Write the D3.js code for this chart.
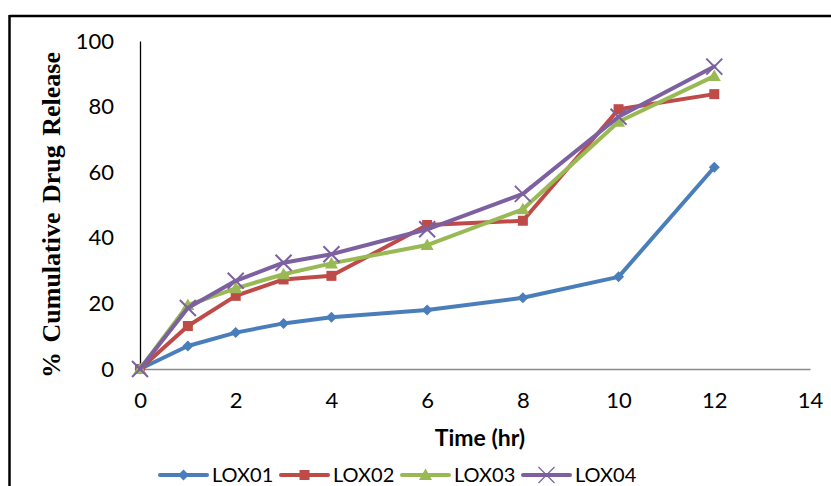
<!DOCTYPE html>
<html>
<head>
<meta charset="utf-8">
<script src="https://cdn.jsdelivr.net/npm/d3@7"></script>
<style>
  html, body { margin: 0; padding: 0; background: #fff; }
  svg { display: block; }
</style>
</head>
<body>
<svg id="chart" width="831" height="486"></svg>
<script>
// Sampling times (hr)
const times = [0, 1, 2, 3, 4, 6, 8, 10, 12];

// % cumulative drug release per formulation
const lox01 = [0, 7.0, 11.1, 13.9, 15.8, 18.0, 21.7, 28.1, 61.5];
const lox02 = [0, 13.1, 22.3, 27.3, 28.4, 43.9, 45.2, 79.2, 83.8];
const lox03 = [0, 19.5, 24.6, 28.9, 32.2, 37.8, 48.7, 75.4, 89.3];
const lox04 = [0, 18.6, 26.9, 32.4, 35.0, 42.6, 53.4, 76.9, 92.2];

const seriesNames = ["LOX01", "LOX02", "LOX03", "LOX04"];
const xTicks = [0, 2, 4, 6, 8, 10, 12, 14];
const yTicks = [0, 20, 40, 60, 80, 100];

const seriesValues = [lox01, lox02, lox03, lox04];
const colors = ["#4a7ebb", "#be4b48", "#98b954", "#7d60a0"];
const markers = ["diamond", "square", "triangle", "cross"];

const svg = d3.select("#chart");

// Frame lines
svg.append("line").attr("x1", 9.5).attr("x2", 831).attr("y1", 16).attr("y2", 16)
  .attr("stroke", "#000").attr("stroke-width", 2.5);
svg.append("line").attr("x1", 9.5).attr("x2", 9.5).attr("y1", 15).attr("y2", 486)
  .attr("stroke", "#000").attr("stroke-width", 2.5);

const x = d3.scaleLinear().domain([0, 14]).range([140, 810]);
const y = d3.scaleLinear().domain([0, 100]).range([369, 41]);

const tickFont = "Lato, 'Open Sans', sans-serif";

// Y axis
const yAxis = svg.append("g").attr("transform", `translate(${x(0)},0)`)
  .call(d3.axisLeft(y).tickValues(yTicks).tickSize(0).tickPadding(26).tickFormat(d3.format("d")));
yAxis.select(".domain").attr("stroke", "#000").attr("stroke-width", 1.3);
yAxis.selectAll("text").attr("font-family", tickFont).attr("font-size", 22).attr("fill", "#000");

// X axis
const xAxis = svg.append("g").attr("transform", `translate(0,${y(0)})`)
  .call(d3.axisBottom(x).tickValues(xTicks).tickSize(0).tickPadding(23).tickFormat(d3.format("d")));
xAxis.select(".domain").attr("stroke", "#8a8a8a").attr("stroke-width", 1.3);
xAxis.selectAll("text").attr("font-family", tickFont).attr("font-size", 22).attr("fill", "#000");

// Axis titles
svg.append("text")
  .attr("transform", `translate(60,${(53 + 377) / 2}) rotate(-90)`)
  .attr("text-anchor", "middle")
  .attr("font-family", "'Liberation Serif', 'Times New Roman', serif")
  .attr("font-weight", "bold").attr("font-size", 26)
  .attr("word-spacing", 3)
  .text("% Cumulative Drug Release");

svg.append("text")
  .attr("x", 480).attr("y", 446)
  .attr("text-anchor", "middle")
  .attr("font-family", tickFont).attr("font-weight", "bold").attr("font-size", 23)
  .text("Time (hr)");

// Marker shape drawing
function drawMarker(g, type, color, thin) {
  if (type === "diamond") {
    g.append("path").attr("d", "M0,-5.5L5.5,0L0,5.5L-5.5,0Z").attr("fill", color);
  } else if (type === "square") {
    g.append("rect").attr("x", -5).attr("y", -5).attr("width", 10).attr("height", 10).attr("fill", color);
  } else if (type === "triangle") {
    g.append("path").attr("d", "M0,-6.5L6.5,5L-6.5,5Z").attr("fill", color);
  } else {
    g.append("path").attr("d", "M-8,-8L8,8M-8,8L8,-8").attr("stroke", color).attr("stroke-width", thin ? 1.2 : 2);
  }
}

const line = d3.line().x((d, i) => x(times[i])).y(d => y(d));

seriesValues.forEach((vals, s) => {
  const g = svg.append("g");
  g.append("path").datum(vals)
    .attr("d", line)
    .attr("fill", "none")
    .attr("stroke", colors[s])
    .attr("stroke-width", 4)
    .attr("stroke-linejoin", "round")
    .attr("stroke-linecap", "round");
  vals.forEach((v, i) => {
    const m = g.append("g").attr("transform", `translate(${x(times[i])},${y(v)})`);
    drawMarker(m, markers[s], colors[s], false);
  });
});

// Legend
const legend = svg.append("g").attr("transform", "translate(160,475)");
seriesNames.forEach((name, s) => {
  const g = legend.append("g").attr("transform", `translate(${s * 121},0)`);
  g.append("line").attr("x1", 0).attr("x2", 47).attr("y1", 0).attr("y2", 0)
    .attr("stroke", colors[s]).attr("stroke-width", 4).attr("stroke-linecap", "round");
  const m = g.append("g").attr("transform", "translate(23.5,0)");
  drawMarker(m, markers[s], colors[s], true);
  g.append("text").attr("x", 52).attr("y", 0).attr("dy", "0.35em")
    .attr("font-family", tickFont).attr("font-size", 20).text(name);
});
</script>
</body>
</html>
